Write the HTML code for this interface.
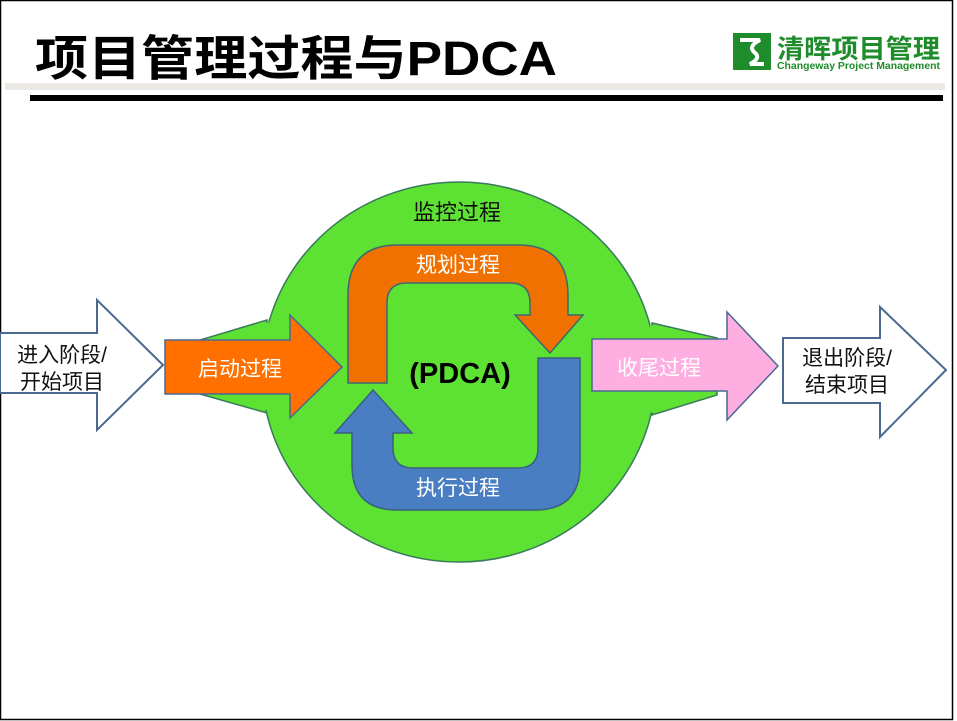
<!DOCTYPE html>
<html><head><meta charset="utf-8"><style>
body{margin:0;background:#fff;}
.wrap{position:relative;width:957px;height:721px;overflow:hidden;background:#fff;font-family:"Liberation Sans","Noto Sans CJK SC",sans-serif;}
</style></head><body><div class="wrap">
<svg width="957" height="721" viewBox="0 0 957 721" xmlns="http://www.w3.org/2000/svg" style="position:absolute;left:0;top:0">
<rect x="0.5" y="0.5" width="952" height="719" fill="none" stroke="#000" stroke-width="1.5"/>
<text x="35" y="75" font-size="48" font-weight="bold" fill="#000" font-family="Liberation Sans, Noto Sans CJK SC, sans-serif" textLength="522" lengthAdjust="spacingAndGlyphs">项目管理过程与PDCA</text>
<rect x="5" y="83" width="940" height="7" fill="#ece9e4"/>
<rect x="30" y="95" width="913" height="6" fill="#000"/>
<!-- logo -->
<rect x="733" y="33" width="38" height="37" fill="#1e8c2a"/>
<path d="M740 40 L760 40 Q748 46 754 52 Q762 58 750 64 L764 64" fill="none" stroke="#fff" stroke-width="4"/>
<text x="777" y="58" font-size="26" font-weight="bold" fill="#1e8c2a" textLength="163" lengthAdjust="spacingAndGlyphs">清晖项目管理</text>
<text x="777" y="69" font-size="10.5" font-weight="bold" fill="#1e8c2a" textLength="163" lengthAdjust="spacingAndGlyphs">Changeway Project Management</text>
<!-- green shape -->
<g fill="#5de234" stroke="#3a7a5a" stroke-width="1.5">
<polygon points="267,320 200,340 200,394 267,413"/>
<polygon points="652,323 717,338 717,395 652,415"/>
<ellipse cx="459" cy="372" rx="197" ry="190"/>
</g>
<polygon points="270,322 202,341 202,393 270,411 270,322" fill="#5de234"/>
<polygon points="650,325 715,339 715,394 650,413" fill="#5de234"/>
<!-- left white arrow -->
<polygon points="0,333 97,333 97,300 163,365 97,430 97,393 0,393" fill="#fff" stroke="#4a6890" stroke-width="2"/>
<!-- start arrow -->
<polygon points="165,340 290,340 290,315 342,367 290,418 290,394 165,394" fill="#ff7000" stroke="#4a6890" stroke-width="1.5"/>
<!-- pink arrow -->
<polygon points="592,339 727,339 727,312 778,366 727,420 727,391 592,391" fill="#ffaee2" stroke="#4a6890" stroke-width="1.5"/>
<!-- exit arrow -->
<polygon points="783,338 880,338 880,307 946,370 880,437 880,403 783,403" fill="#fff" stroke="#4a6890" stroke-width="2"/>
<!-- orange U -->
<path d="M348,383 L348,295 Q348,245 398,245 L518,245 Q568,245 568,295 L568,315 L583,315 L550,353 L515,315 L530,315 L530,303 Q530,283 510,283 L407,283 Q387,283 387,303 L387,383 Z" fill="#f07000" stroke="#3a6a70" stroke-width="1.5"/>
<!-- blue U -->
<path d="M538,358 L580,358 L580,465 Q580,510 535,510 L397,510 Q352,510 352,465 L352,433 L335,433 L373,390 L412,433 L393,433 L393,448 Q393,468 413,468 L518,468 Q538,468 538,448 Z" fill="#4a7ec2" stroke="#3a6080" stroke-width="1.5"/>
<g font-family="Liberation Sans, Noto Sans CJK SC, sans-serif">
<text x="457" y="220" font-size="22" fill="#111" text-anchor="middle">监控过程</text>
<text x="458" y="272" font-size="21" fill="#fff" text-anchor="middle">规划过程</text>
<text x="458" y="495" font-size="21" fill="#fff" text-anchor="middle">执行过程</text>
<text x="460" y="383" font-size="29" font-weight="bold" fill="#000" text-anchor="middle">(PDCA)</text>
<text x="240" y="376" font-size="21" fill="#fff" text-anchor="middle">启动过程</text>
<text x="659" y="375" font-size="21" fill="#fff" text-anchor="middle">收尾过程</text>
<text x="62" y="362" font-size="21" fill="#111" text-anchor="middle">进入阶段/</text>
<text x="62" y="389" font-size="21" fill="#111" text-anchor="middle">开始项目</text>
<text x="847" y="365" font-size="21" fill="#111" text-anchor="middle">退出阶段/</text>
<text x="847" y="392" font-size="21" fill="#111" text-anchor="middle">结束项目</text>
</g>
</svg>
</div></body></html>
